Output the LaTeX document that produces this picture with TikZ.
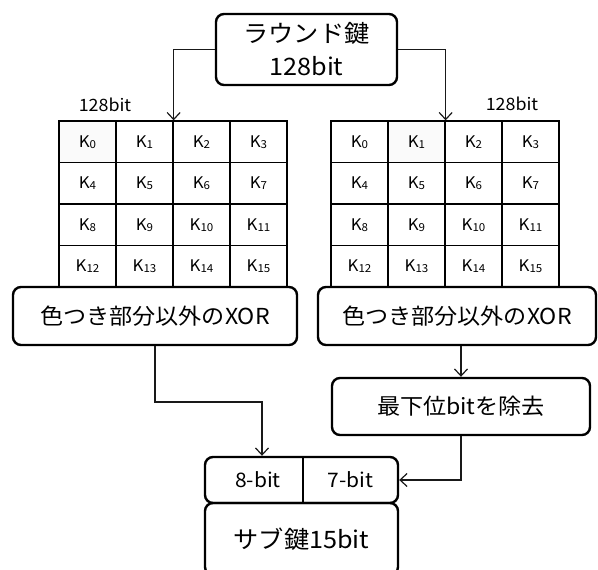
\documentclass[tikz,border=0pt]{standalone}
\usepackage{fontspec}
\setmainfont[FakeStretch=1.05]{Noto Sans CJK JP}
\usetikzlibrary{arrows.meta,calc}
\newcommand\kk[1]{K\raisebox{-1pt}{\fontsize{11}{11}\selectfont #1}}
\tikzset{
  box/.style={draw, line width=2.4pt, rounded corners=8pt, inner sep=0pt, align=center},
  cell/.style={draw, line width=1.3pt, minimum width=57pt, minimum height=41.5pt, inner sep=0pt, font=\fontsize{16}{16}\selectfont},
  conn/.style={line width=1.3pt, draw=black!90, -{Straight Barb[length=7pt,width=13pt,line width=1.2pt]}},
  bigtxt/.style={font=\fontsize{22}{33}\selectfont},
  hugetxt/.style={font=\fontsize{24}{33}\selectfont},
  smalltxt/.style={font=\fontsize{17}{17}\selectfont}
}
\begin{document}
\begin{tikzpicture}[x=1pt,y=-1pt]
\useasboundingbox (0,0) rectangle (598,570);
\clip (0,0) rectangle (598,570);
% top box
\node[box, hugetxt, minimum width=181pt, minimum height=71pt] (top) at (306.5,49.5) {ラウンド鍵\\128bit};
% grids
\foreach \r in {0,...,3} {
  \foreach \c in {0,...,3} {
    \pgfmathtruncatemacro\n{4*\r+\c}
    \ifnum\n=0 \def\cfl{black!2}\else\def\cfl{white}\fi
    \ifnum\n=1 \def\cfr{black!2}\else\def\cfr{white}\fi
    \node[cell, fill=\cfl] (L\n) at ({59+57*\c+28.5},{121+41.5*\r+20.75}) {\kk{\n}};
    \node[cell, fill=\cfr] (R\n) at ({331+57*\c+28.5},{121+41.5*\r+20.75}) {\kk{\n}};
  }
}
\node[smalltxt] (lbL) at (105,105) {128bit};
\node[smalltxt] (lbR) at (512,104) {128bit};
% XOR boxes
\node[box, bigtxt, fill=white, minimum width=284pt, minimum height=58pt] (xorL) at (155,316) {色つき部分以外のXOR};
\node[box, bigtxt, fill=white, minimum width=278pt, minimum height=58pt] (xorR) at (457,316) {色つき部分以外のXOR};
% drop LSB box
\node[box, bigtxt, minimum width=258pt, minimum height=57pt] (drop) at (461,406.5) {最下位bitを除去};
% bits box
\node[box, minimum width=193pt, minimum height=46pt] (bits) at (301.5,480) {};
\node[font=\fontsize{20}{20}\selectfont, minimum width=98pt, minimum height=46pt, inner sep=0pt] (b8) at (258,480) {8-bit};
\node[font=\fontsize{20}{20}\selectfont, minimum width=95pt, minimum height=46pt, inner sep=0pt] (b7) at (350.5,480) {7-bit};
\draw[line width=1.3pt] (303,457) -- (303,503);
% sub key box
\node[box, hugetxt, minimum width=193pt, minimum height=72pt] (sub) at (301.5,539) {サブ鍵15bit};
% connectors
\draw[conn] (top.west) -| (L1.north east);
\draw[conn] (top.east) -| (R1.north east);
\coordinate (j1) at (262,402);
\draw[conn] (xorL.south) |- (j1) -- (j1 |- bits.north);
\draw[conn] (drop.north |- xorR.south) -- (drop.north);
\draw[conn] (drop.south) |- (bits.east);
\end{tikzpicture}
\end{document}
